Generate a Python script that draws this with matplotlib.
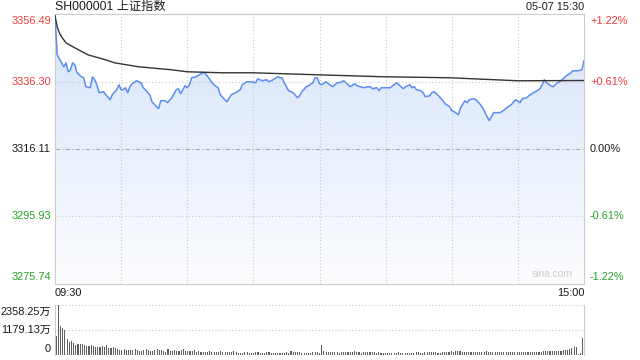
import matplotlib
import numpy as np

matplotlib.use("Agg")
import matplotlib.pyplot as plt
from matplotlib.colors import LinearSegmentedColormap
from matplotlib.transforms import offset_copy

plt.rcParams["font.family"] = ["Liberation Sans", "Noto Sans CJK SC"]

TITLE = "SH000001 上证指数"
STAMP = "05-07 15:30"
price_ticks = [3356.49, 3336.30, 3316.11, 3295.93, 3275.74]
pct_ticks = ["+1.22%", "+0.61%", "0.00%", "-0.61%", "-1.22%"]
vol_ticks = [2358.25, 1179.13, 0]
vol_tick_labels = ["2358.25万", "1179.13万", "0"]
time_labels = ["09:30", "15:00"]

# 分时价格（分钟序号, 价格），读自原图
price_min = [0, 1, 2, 4, 5, 6, 7, 8, 9, 10, 12, 13, 14, 16, 17, 18, 19, 20, 22, 23,
             25, 26, 28, 29, 30, 31, 32, 33, 34, 35, 37, 39, 40, 41, 43, 44, 46, 47, 48, 50,
             51, 53, 55, 56, 57, 59, 60, 61, 62, 64, 67, 68, 69, 71, 72, 74, 75, 77, 78, 80,
             82, 84, 85, 87, 89, 91, 92, 94, 96, 97, 99, 101, 102, 103, 104, 106, 108, 110, 111, 112,
             114, 115, 117, 118, 119, 120, 121, 123, 124, 126, 128, 129, 131, 132, 134, 136, 137, 140, 142, 143,
             144, 146, 147, 148, 150, 152, 155, 156, 158, 159, 161, 162, 163, 164, 166, 167, 168, 170, 171, 172,
             174, 176, 177, 179, 180, 181, 183, 184, 186, 187, 188, 190, 191, 193, 194, 196, 197, 199, 201, 202,
             204, 205, 207, 209, 211, 212, 214, 215, 217, 218, 220, 221, 222, 223, 225, 226, 228, 229, 231, 232,
             234, 235, 237, 239, 240]
price = [3356.00, 3344.27, 3343.08, 3340.70, 3341.89, 3339.21, 3339.80, 3341.89, 3341.29, 3338.91,
         3337.72, 3337.42, 3334.74, 3334.44, 3337.72, 3336.82, 3335.33, 3332.95, 3333.25, 3332.35,
         3330.86, 3332.35, 3333.84, 3335.33, 3333.84, 3333.84, 3334.44, 3332.95, 3334.74, 3335.63,
         3336.52, 3335.93, 3334.44, 3333.84, 3332.35, 3330.27, 3328.78, 3328.18, 3330.56, 3330.56,
         3329.97, 3331.46, 3333.84, 3334.14, 3332.65, 3335.03, 3334.44, 3335.33, 3337.42, 3337.72,
         3338.91, 3338.91, 3338.01, 3336.23, 3335.33, 3334.44, 3332.35, 3330.86, 3330.27, 3332.35,
         3332.95, 3333.84, 3335.33, 3336.23, 3336.23, 3335.93, 3337.12, 3336.52, 3336.82, 3336.23,
         3336.82, 3337.72, 3337.42, 3337.42, 3335.93, 3333.54, 3332.95, 3331.46, 3332.05, 3333.25,
         3334.74, 3335.03, 3335.93, 3337.42, 3337.42, 3335.63, 3335.33, 3336.23, 3335.63, 3334.74,
         3335.93, 3335.93, 3336.52, 3335.93, 3334.74, 3335.63, 3335.03, 3334.44, 3334.74, 3334.74,
         3334.14, 3334.44, 3333.54, 3334.44, 3334.44, 3334.44, 3335.93, 3335.33, 3334.14, 3334.74,
         3335.33, 3334.44, 3334.74, 3333.84, 3333.54, 3332.95, 3331.76, 3332.05, 3332.95, 3333.25,
         3332.05, 3330.56, 3329.67, 3328.78, 3327.58, 3327.29, 3326.39, 3328.48, 3330.56, 3329.97,
         3330.86, 3331.16, 3330.86, 3329.37, 3328.48, 3325.80, 3324.61, 3326.99, 3326.99, 3326.99,
         3327.88, 3328.48, 3329.37, 3330.86, 3329.97, 3331.16, 3331.46, 3332.05, 3332.95, 3333.25,
         3334.14, 3335.33, 3336.82, 3335.93, 3335.03, 3334.74, 3335.93, 3336.23, 3337.42, 3338.01,
         3338.91, 3339.50, 3339.50, 3339.80, 3342.48]

# 均价线
avg_min = [0, 1, 2, 3, 5, 9, 15, 23, 27, 38, 53, 60, 76, 90, 119, 149, 179, 210, 240]
avg = [3356.00, 3352.62, 3350.83, 3349.64, 3347.85, 3346.36, 3344.27, 3342.78, 3341.89, 3340.70,
       3339.80, 3339.21, 3338.91, 3338.91, 3338.31, 3337.72, 3337.42, 3336.52, 3336.60]

# 成交量（万），每分钟一根
volume = [896, 2358, 1368, 1258, 1179, 739, 629, 676, 582, 472,
          519, 519, 519, 472, 424, 424, 472, 409, 377, 377,
          393, 424, 377, 487, 330, 314, 377, 314, 267, 236,
          236, 283, 236, 236, 236, 236, 283, 236, 204, 204,
          252, 283, 236, 204, 204, 236, 283, 236, 236, 189,
          126, 283, 204, 204, 236, 189, 189, 236, 283, 189,
          189, 189, 189, 236, 157, 189, 141, 141, 141, 141,
          189, 141, 141, 141, 141, 189, 141, 141, 141, 141,
          141,
          189, 126, 110, 110, 110, 157, 126, 110, 110, 110,
          157, 126, 110, 110, 110, 126, 157, 110, 110, 110,
          110, 110, 110, 110, 157, 110, 204, 126, 157, 157,
          157, 110, 110, 110, 110, 110, 157, 157, 157, 79,
          487, 204, 157, 157, 157, 157, 157, 157, 110, 157,
          157, 157, 157, 157, 157, 204, 126, 157, 110, 126,
          157, 126, 157, 157, 126, 110, 157, 110, 110, 110,
          110, 110, 110, 110, 110, 157, 110, 110, 110, 110,
          110,
          110, 110, 126, 157,
          110, 110, 126, 157, 157, 126, 157, 126, 110, 110,
          126, 157, 157, 157, 204, 157, 204, 204, 204, 157,
          157, 157, 157, 126, 126, 157, 157, 157, 157, 157,
          204, 157, 157, 157, 157, 157, 157, 157, 126, 157,
          126, 157, 157, 157, 157, 157, 126, 126, 157, 157,
          157, 157, 157, 157, 157, 157, 204, 204, 204, 204,
          204, 204, 204, 204, 204, 236, 236, 236, 283, 330,
          377, 377, 31, 79, 817]

RED = "#f03c3c"
GREEN = "#25a525"
GRID = "#c8c8c8"
BORDER = "#cccccc"
INK = "#1a1a1a"


def main():
    fig = plt.figure(figsize=(6.4, 3.6), dpi=100)
    ax = fig.add_axes([55 / 640, 1 - 284 / 360, 529 / 640, 270 / 360])
    vax = fig.add_axes([55 / 640, 1 - 355 / 360, 529 / 640, 50 / 360])

    ymax, ymin = price_ticks[0], price_ticks[-1]

    # 价格线下方渐变填充
    poly = ax.fill_between(price_min, price, ymin, color="none", lw=0)
    cmap = LinearSegmentedColormap.from_list("fade", ["#fcfdff", "#d5e3f9"])
    grad = np.linspace(1, 0, 256).reshape(-1, 1)
    img = ax.imshow(grad, cmap=cmap, aspect="auto", extent=[0, 240, ymin, ymax],
                    origin="upper", zorder=1, interpolation="bilinear")
    img.set_clip_path(poly.get_paths()[0], transform=ax.transData)

    ax.plot(price_min, price, color="#5a8ef0", lw=1.1, zorder=3)
    ax.plot(avg_min, avg, color="#333333", lw=1.0, zorder=4)

    ax.set_xlim(0, 240)
    ax.set_ylim(ymin, ymax)
    for t in range(30, 240, 30):
        ax.axvline(t, color=GRID, lw=0.8, ls=(0, (1, 2)), zorder=2)
    for v in (price_ticks[1], price_ticks[3]):
        ax.axhline(v, color=GRID, lw=0.8, ls=(0, (1, 2)), zorder=2)
    ax.axhline(price_ticks[2], color="#aaaaaa", lw=0.8, ls=(0, (4, 2, 1, 2)), zorder=2)
    ax.set_xticks([])
    ax.set_yticks([])
    for s in ax.spines.values():
        s.set_color(BORDER)
        s.set_linewidth(0.8)

    left_colors = [RED, RED, INK, GREEN, GREEN]
    vas = ["top", "center", "center", "center", "bottom"]
    shifts = [-2.5, 0, 0, 0, 2.5]
    ytr = ax.get_yaxis_transform()
    for v, pct, c, va, dy in zip(price_ticks, pct_ticks, left_colors, vas, shifts):
        tr = offset_copy(ytr, fig=fig, x=-4, y=dy, units="dots")
        ax.text(0, v, f"{v:.2f}", transform=tr, ha="right", va=va, color=c, fontsize=7.9)
        tr = offset_copy(ytr, fig=fig, x=6, y=dy, units="dots")
        ax.text(1, v, pct, transform=tr, ha="left", va=va, color=c, fontsize=7.9)

    ax.text(0.94, 0.02, "sina.com", transform=ax.transAxes, ha="center", va="bottom",
            color="#cccccc", fontsize=7.4)

    fig.text(55 / 640, 1 - 7 / 360, TITLE, ha="left", va="center", fontsize=8.8, color=INK)
    fig.text(584 / 640, 1 - 7 / 360, STAMP, ha="right", va="center", fontsize=7.8, color=INK)
    fig.text(55 / 640, 1 - 293 / 360, time_labels[0], ha="left", va="center", fontsize=7.9, color=INK)
    fig.text(585 / 640, 1 - 293 / 360, time_labels[1], ha="right", va="center", fontsize=7.9, color=INK)

    # 成交量
    vax.bar(np.arange(len(volume)), volume, width=0.5, color="#5e5e5e", lw=0)
    vax.set_xlim(-0.5, 240.5)
    vax.set_ylim(0, vol_ticks[0])
    for v in vol_ticks[:2]:
        vax.axhline(v, color=GRID, lw=0.8, ls=(0, (1, 2)), zorder=0)
    vax.set_xticks([])
    vax.set_yticks([])
    vax.spines["top"].set_visible(False)
    vax.spines["bottom"].set_visible(False)
    for side in ("left", "right"):
        vax.spines[side].set_color(BORDER)
        vax.spines[side].set_linewidth(0.8)
    vytr = vax.get_yaxis_transform()
    for v, lab, va, dy in zip(vol_ticks, vol_tick_labels, ["top", "center", "bottom"], [-2, 0, 1]):
        tr = offset_copy(vytr, fig=fig, x=-4, y=dy, units="dots")
        vax.text(0, v, lab, transform=tr, ha="right", va=va, fontsize=7.9, color=INK)

    fig.savefig("out.png", dpi=100)
    plt.close(fig)


if __name__ == "__main__":
    main()
